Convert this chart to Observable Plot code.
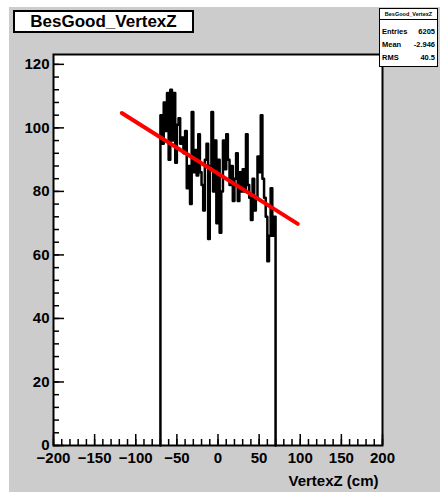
<!DOCTYPE html>
<html>
<head>
<meta charset="utf-8">
<script src="https://cdn.jsdelivr.net/npm/d3@7"></script>
<script src="https://cdn.jsdelivr.net/npm/@observablehq/plot@0.6"></script>
<style>
  body { margin: 0; background: #fff; }
  #wrap { position: relative; width: 440px; height: 492px; overflow: hidden; font-family: "Liberation Sans", Arial, sans-serif; }
  #bg { position: absolute; left: 9px; top: 7px; width: 431px; height: 485px; background: #cccccc; }
  #chart { position: absolute; left: 0; top: 0; }
  #title { position: absolute; left: 13px; top: 10px; width: 177px; height: 19px; border: 2px solid #000; background: #fff;
           font-weight: bold; font-size: 17px; text-align: center; line-height: 20px; }
  #stats { position: absolute; left: 379px; top: 8px; width: 57px; height: 57px; border: 1.5px solid #000; background: #fff;
           font-weight: bold; font-size: 7.5px; }
  #stats .hdr { position: absolute; left: 0; top: 0; width: 57px; height: 10px; border-bottom: 1.5px solid #000;
           font-size: 5.5px; text-align: center; line-height: 10px; white-space: nowrap; overflow: hidden; }
  #stats .row { position: absolute; left: 2px; width: 53px; height: 10px; line-height: 10px; }
  #stats .row .k { position: absolute; left: 0; }
  #stats .row .v { position: absolute; right: 0; }
</style>
</head>
<body>
<div id="wrap">
  <div id="bg"></div>
  <div id="chart"></div>
  <div id="title"></div>
  <div id="stats"></div>
</div>
<script>
// ---- data ----
const histTitle = "BesGood_VertexZ";
const xAxisLabel = "VertexZ (cm)";
const binLow = -70;
const binWidth = 2;
const counts = [
  104, 95, 108, 99, 111, 90, 112, 96, 111, 89,
  101, 103, 95, 97, 92, 99, 81, 88, 76, 105,
  86, 93, 85, 98, 86, 82, 74, 90, 95, 65,
  88, 105, 80, 96, 70, 90, 67, 80, 96, 87,
  98, 90, 82, 88, 77, 84, 92, 77, 86, 80,
  87, 80, 98, 82, 78, 71, 84, 74, 78, 91,
  86, 104, 84, 78, 72, 58, 66, 81, 66, 72
];
const fitP0 = 85.6;
const fitP1 = -0.163;
const fitRange = [-117, 97];
const statLabels = ["Entries", "Mean", "RMS"];
const statValues = ["6205", "-2.946", "40.5"];
const xDomain = [-200, 200];
const yDomain = [0, 123.1];
const xMajorTicks = [-200, -150, -100, -50, 0, 50, 100, 150, 200];
const xMinorTicks = d3.range(-200, 201, 10);
const yMajorTicks = [0, 20, 40, 60, 80, 100, 120];
const yMinorTicks = d3.range(0, 123, 4);

// ---- build tables ----
const histPts = [{x: binLow, y: 0}];
counts.forEach((c, i) => histPts.push({x: binLow + i * binWidth, y: c}));
histPts.push({x: binLow + counts.length * binWidth, y: counts[counts.length - 1]});
histPts.push({x: binLow + counts.length * binWidth, y: 0});
const fitPts = fitRange.map(x => ({x, y: fitP0 + fitP1 * x}));

const chart = Plot.plot({
  width: 440,
  height: 492,
  marginLeft: 53,
  marginRight: 58,
  marginTop: 54,
  marginBottom: 47,
  style: {background: "transparent", fontFamily: "'Liberation Sans', Arial, sans-serif", fontSize: "15px", fontWeight: "bold", color: "#000"},
  x: {domain: xDomain},
  y: {domain: yDomain},
  marks: [
    Plot.frame({fill: "white", stroke: null}),
    Plot.line(histPts, {x: "x", y: "y", curve: "step-after", stroke: "black", strokeWidth: 2.5}),
    Plot.line(fitPts, {x: "x", y: "y", stroke: "#ff0000", strokeWidth: 4}),
    Plot.axisX({ticks: xMinorTicks, tickSize: -6, tickFormat: () => "", label: null, strokeWidth: 1.5}),
    Plot.axisX({ticks: xMajorTicks, tickSize: -11, tickPadding: 18, label: null, strokeWidth: 1.5, fontSize: 15, fontWeight: "bold"}),
    Plot.axisY({ticks: yMinorTicks, tickSize: -6, tickFormat: () => "", label: null, strokeWidth: 1.5}),
    Plot.axisY({ticks: yMajorTicks, tickSize: -11, tickPadding: 15, label: null, strokeWidth: 1.5, fontSize: 15, fontWeight: "bold"}),
    Plot.frame({stroke: "black", strokeWidth: 2}),
    Plot.text([xAxisLabel], {frameAnchor: "bottom-right", text: d => d, dx: -4, dy: 40, textAnchor: "end", fontSize: 15, fontWeight: "bold", fill: "black"})
  ]
});
document.getElementById("chart").appendChild(chart);

document.getElementById("title").textContent = histTitle;
const stats = document.getElementById("stats");
const hdr = document.createElement("div");
hdr.className = "hdr";
hdr.textContent = histTitle;
stats.appendChild(hdr);
statLabels.forEach((k, i) => {
  const row = document.createElement("div");
  row.className = "row";
  row.style.top = (18 + i * 13) + "px";
  row.innerHTML = `<span class="k"></span><span class="v"></span>`;
  row.querySelector(".k").textContent = k;
  row.querySelector(".v").textContent = statValues[i];
  stats.appendChild(row);
});
</script>
</body>
</html>
